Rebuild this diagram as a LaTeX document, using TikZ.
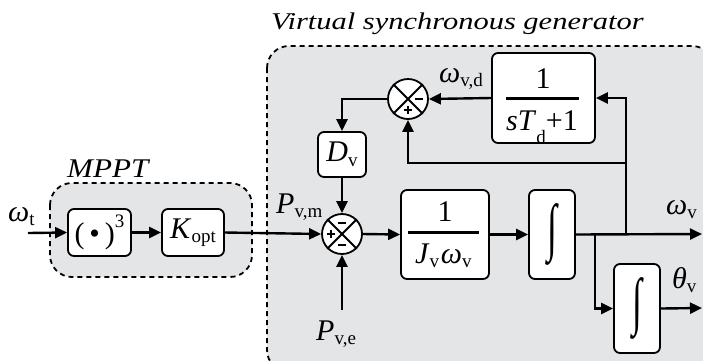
\documentclass[tikz,border=0pt]{standalone}
\usepackage{fontspec}
\setmainfont{Liberation Serif}
\usetikzlibrary{arrows.meta,calc}
\newcommand{\bigf}{\fontsize{30}{30}\selectfont}
\newcommand{\smf}{\fontsize{19}{19}\selectfont}
\newcommand{\Lab}[2]{{\bigf\textit{#1}}\raisebox{-0.45em}{\smf #2}}
\definecolor{vsgfill}{HTML}{E4E5E7}
\tikzset{
  blk/.style={draw, line width=1.8pt, rounded corners=6pt, fill=white, inner sep=0pt},
  sumc/.style={draw, circle, line width=1.8pt, fill=white, minimum size=40pt, inner sep=0pt},
  conn/.style={line width=2.4pt},
  arr/.style={line width=2.4pt, -{Triangle[length=12pt,width=11pt]}},
  grp/.style={draw, dashed, dash pattern=on 5pt off 4pt, line width=1.8pt, rounded corners=22pt},
  lbl/.style={inner sep=0pt, anchor=base west},
  sgn/.style={line width=2.2pt},
  fbar/.style={line width=3pt}
}
\newcommand{\xsum}[1]{\draw[line width=1.8pt] (#1.45) -- (#1.225) (#1.135) -- (#1.315);}
\newcommand{\plussign}[1]{\draw[sgn] ($(#1)+(-4,0)$) -- ($(#1)+(4,0)$) ($(#1)+(0,-4)$) -- ($(#1)+(0,4)$);}
\newcommand{\minussign}[1]{\draw[sgn] ($(#1)+(-4,0)$) -- ($(#1)+(4,0)$);}
\begin{document}
\begin{tikzpicture}[x=1pt,y=-1pt]
\useasboundingbox (0,0) rectangle (703,360);
\clip (0,0) rectangle (703,360);
% group boxes
\draw[grp, fill=vsgfill] (267,46) rectangle (714,372);
\draw[grp, fill=vsgfill] (50,183) rectangle (252,277);
\node[lbl] (title) at (271,29) {\scalebox{1.27}[1]{\fontsize{24}{24}\selectfont\textit{Virtual synchronous generator}}};
\node[lbl] (mppt) at (67,177) {\scalebox{1.15}[1]{\fontsize{27}{27}\selectfont\textit{MPPT}}};
% blocks
\node[blk, minimum width=63pt, minimum height=47pt] (cube) at (99.5,232.5) {\bigf(\,•\,)\raisebox{0.55em}{\smf 3}};
\node[blk, minimum width=62pt, minimum height=47pt] (kopt) at (193,232.5) {\Lab{K}{opt}};
\node[sumc] (s1) at (342,234) {};
\xsum{s1}
\node[blk, minimum width=48pt, minimum height=45pt] (dv) at (342,154.5) {\Lab{D}{v}};
\node[blk, minimum width=88pt, minimum height=89pt] (jb) at (445,234.5) {};
\node[blk, minimum width=46pt, minimum height=89pt] (i1) at (552,234.5) {};
\node[blk, minimum width=46pt, minimum height=89pt] (i2) at (637,308.5) {};
\node[blk, minimum width=103pt, minimum height=90pt] (td) at (543.5,98) {};
\node[sumc] (s2) at (408,99) {};
\xsum{s2}
% signs
\plussign{$(s1)+(-11,0)$}
\minussign{$(s1)+(0,-11)$}
\minussign{$(s1)+(0,11)$}
\minussign{$(s2)+(11,0)$}
\plussign{$(s2)+(0,11)$}
% fractions
\node[inner sep=0pt] (jnum) at (445,212) {\bigf 1};
\draw[fbar] (408,232) -- (479,232);
\node[lbl] (jden) at (415,263) {\Lab{J}{v}\,\Lab{ω}{v}};
\node[inner sep=0pt] (tnum) at (543,79) {\bigf 1};
\draw[fbar] (506,98) -- (579,98);
\node[lbl] (tden) at (506,130) {\bigf\textit{sT}\raisebox{-0.45em}{\smf d}\bigf+1};
% integrals
\node[inner sep=0pt] (int1) at (552,234) {\scalebox{1.2}[2.1]{\bigf ∫}};
\node[inner sep=0pt] (int2) at (637,308) {\scalebox{1.2}[2.1]{\bigf ∫}};
% coordinates
\coordinate (win) at (28,233);
\coordinate (pe) at (342,310);
\coordinate (wout) at (702,234);
\coordinate (thout) at (702,308);
\coordinate (br1) at (595,234);
\coordinate (br2) at (626,234);
\coordinate (br3) at (626,163);
% connectors
\draw[arr] (win) -- (cube.west);
\draw[arr] (cube.east) -- (kopt.west);
\draw[arr] (kopt.east) -- (s1.west);
\draw[arr] (dv.south) -- (s1.north);
\draw[arr] (pe) -- (s1.south);
\draw[arr] (s1.east) -- (jb.west);
\draw[arr] (jb.east) -- (i1.west);
\draw[arr] (i1.east) -- (wout);
\draw[arr] (br1) |- (i2.west);
\draw[arr] (i2.east) -- (thout);
\draw[arr] (br2) |- (td.east);
\draw[arr] (br3) -| (s2.south);
\draw[arr] (td.west) -- (s2.east);
\draw[arr] (s2.west) -| (dv.north);
% labels
\node[lbl] (lwt) at (8,221) {\Lab{ω}{t}};
\node[lbl] (lpm) at (276,213) {\Lab{P}{v,m}};
\node[lbl] (lpe) at (316,340) {\Lab{P}{v,e}};
\node[lbl] (lwd) at (439,82) {\Lab{ω}{v,d}};
\node[lbl] (lwv) at (666,214) {\Lab{ω}{v}};
\node[lbl] (lth) at (672,288) {\Lab{θ}{v}};
\end{tikzpicture}
\end{document}
